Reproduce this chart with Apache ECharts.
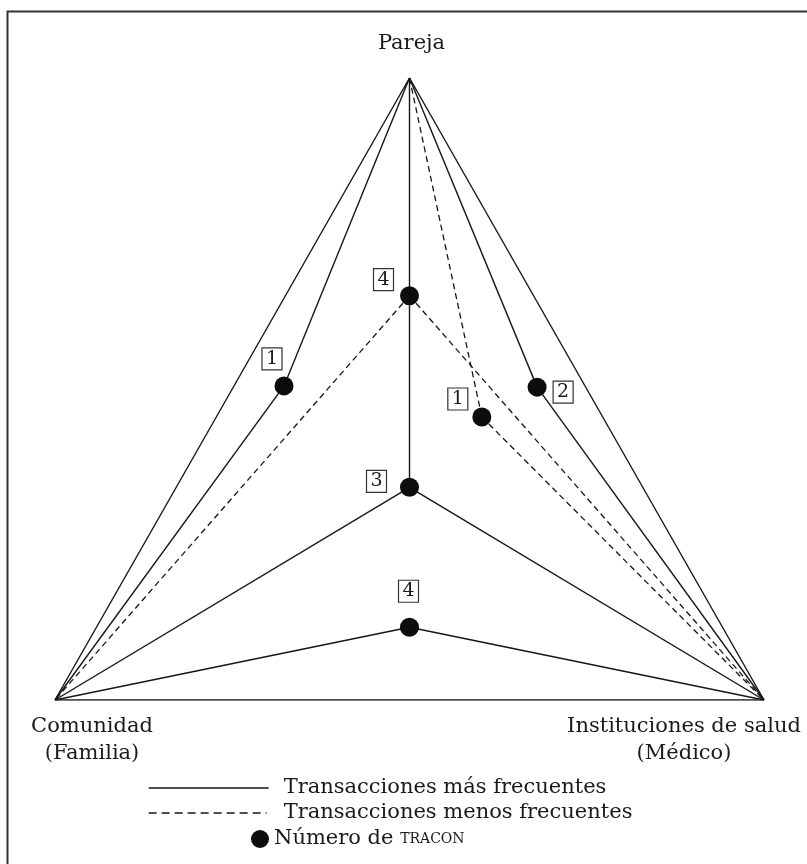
<!DOCTYPE html>
<html>
<head>
<meta charset="utf-8">
<script src="https://cdn.jsdelivr.net/npm/echarts@6/dist/echarts.min.js"></script>
<style>
html,body{margin:0;padding:0;background:#fff;}
#chart{width:807px;height:864px;}
</style>
</head>
<body>
<div id="chart"></div>
<script>
// ---- data ----
const vertexNames = ['Pareja', 'Comunidad\n(Familia)', 'Instituciones de salud\n(Médico)'];
const vertexX = [50, 0, 100];
const vertexY = [100, 0, 0];

const traconLabels = ['4', '1', '2', '1', '3', '4'];
const traconX = [50, 32.3, 68.0, 60.2, 50, 50];
const traconY = [65, 50.5, 50.3, 45.5, 34.2, 11.7];

// edges between nodes: V = vertex index, T = tracon index
const frequentEdges = [
  ['V0','V1'], ['V0','V2'], ['V1','V2'],
  ['V0','T1'], ['T1','V1'],
  ['V0','T2'], ['T2','V2'],
  ['V0','T0'], ['T0','T4'],
  ['T4','V1'], ['T4','V2'],
  ['T5','V1'], ['T5','V2']
];
const lessFrequentEdges = [
  ['T0','V1'], ['T0','V2'],
  ['V0','T3'], ['T3','V2']
];

const legendNames = ['Transacciones más frecuentes', 'Transacciones menos frecuentes', 'Número de TRACON'];

// ---- styles (layout only) ----
const FONT = 'DejaVu Serif';
const INK = '#161616';
const TEXT = '#1a1a1a';
const traconLabelOffsets = [[-26,-16], [-12,-27], [26,5], [-24,-18], [-33,-6], [-1,-36]];
const vertexLabelOffsets = [[2,-34], [37,40], [-80,40]];

function node(key) {
  const i = +key.slice(1);
  return key[0] === 'V' ? [vertexX[i], vertexY[i]] : [traconX[i], traconY[i]];
}

const series = [];
frequentEdges.forEach(e => series.push({
  type: 'line', name: legendNames[0], data: [node(e[0]), node(e[1])],
  symbol: 'none', silent: true, z: 2,
  itemStyle: { color: INK },
  lineStyle: { color: INK, width: 1.4, type: 'solid' }
}));
lessFrequentEdges.forEach(e => series.push({
  type: 'line', name: legendNames[1], data: [node(e[0]), node(e[1])],
  symbol: 'none', silent: true, z: 2,
  itemStyle: { color: INK },
  lineStyle: { color: INK, width: 1.3, type: [6, 4] }
}));
series.push({
  type: 'scatter', name: legendNames[2], z: 5,
  symbol: 'circle', symbolSize: 19,
  itemStyle: { color: '#0d0d0d', opacity: 1 },
  data: traconLabels.map((t, i) => ({
    value: [traconX[i], traconY[i], t],
    label: { offset: traconLabelOffsets[i] }
  })),
  label: {
    show: true, position: 'inside',
    formatter: p => p.value[2],
    fontFamily: FONT, fontSize: 19, color: TEXT,
    borderColor: '#333', borderWidth: 1.2,
    width: 16, height: 20, lineHeight: 20, align: 'center',
    padding: [1, 2, 1, 2]
  }
});
series.push({
  type: 'scatter', name: 'vertices', z: 4, symbolSize: 0,
  itemStyle: { opacity: 1 },
  data: vertexNames.map((n, i) => ({
    value: [vertexX[i], vertexY[i], n],
    label: { offset: vertexLabelOffsets[i] }
  })),
  label: {
    show: true, position: 'inside',
    formatter: p => p.value[2],
    fontFamily: FONT, fontSize: 21, color: TEXT,
    lineHeight: 27, align: 'center'
  }
});

const legendBase = {
  orient: 'vertical', padding: 0, selectedMode: false,
  itemHeight: 24,
  textStyle: {
    fontFamily: FONT, fontSize: 21, color: TEXT, lineHeight: 24,
    rich: { sc: { fontFamily: FONT, fontSize: 14, color: TEXT } }
  }
};

const chart = echarts.init(document.getElementById('chart'));
chart.setOption({
  backgroundColor: '#fff',
  animation: false,
  grid: { left: 55, right: 43, top: 78, bottom: 164, outerBoundsMode: 'none' },
  xAxis: { type: 'value', min: 0, max: 100, show: false },
  yAxis: { type: 'value', min: 0, max: 100, show: false },
  legend: [
    Object.assign({}, legendBase, {
      left: 148, top: 776, itemWidth: 120, data: [legendNames[0]],
      itemStyle: { opacity: 0, borderWidth: 0 },
      lineStyle: { color: INK, width: 1.4, type: 'solid' },
      textStyle: Object.assign({}, legendBase.textStyle, { padding: [0, 0, 0, 10] })
    }),
    Object.assign({}, legendBase, {
      left: 148, top: 801, itemWidth: 118, data: [legendNames[1]],
      itemStyle: { opacity: 0, borderWidth: 0 },
      lineStyle: { color: INK, width: 1.3, type: [8, 5] },
      textStyle: Object.assign({}, legendBase.textStyle, { padding: [0, 0, 0, 12] })
    }),
    Object.assign({}, legendBase, {
      left: 251, top: 827, itemWidth: 18, data: [legendNames[2]],
      itemStyle: { color: '#0d0d0d', opacity: 1 },
      formatter: n => n.replace('TRACON', '{sc|TRACON}')
    })
  ],
  graphic: [{
    type: 'rect', silent: true, z: -1,
    shape: { x: 7.5, y: 11.5, width: 1000, height: 1000 },
    style: { fill: 'none', stroke: '#333', lineWidth: 2 }
  }],
  series: series
});
</script>
</body>
</html>
